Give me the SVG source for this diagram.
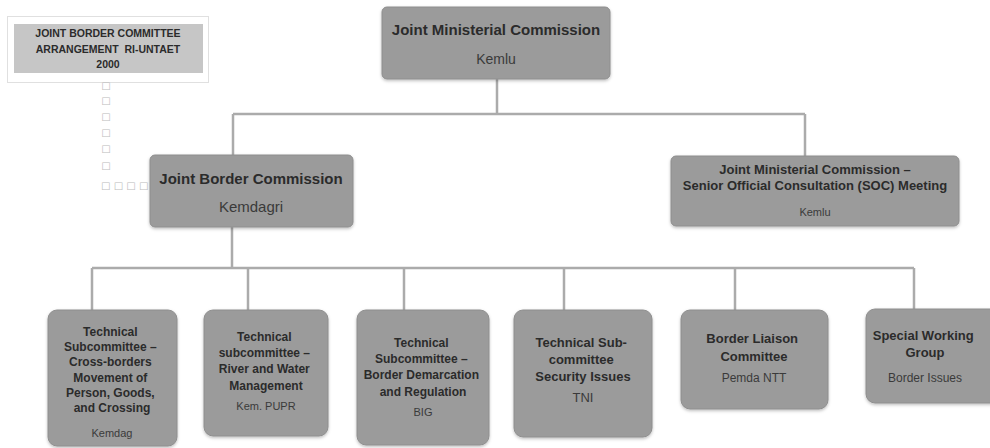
<svg xmlns="http://www.w3.org/2000/svg" width="990" height="448" viewBox="0 0 990 448">
<defs>
<filter id="sh" x="-10%" y="-10%" width="120%" height="125%">
<feDropShadow dx="0" dy="1.5" stdDeviation="1.5" flood-color="#000" flood-opacity="0.25"/>
</filter>
</defs>
<style>
.box{fill:#9b9b9b;stroke:#8e8e8e;stroke-width:1;filter:url(#sh)}
.b{font-family:"Liberation Sans",Arial,sans-serif;font-weight:bold;fill:#2b2b2b;text-anchor:middle}
.n{font-family:"Liberation Sans",Arial,sans-serif;fill:#3a3a3a;text-anchor:middle}
.con{fill:none;stroke:#ababab;stroke-width:2.5}
.dot{font-family:"DejaVu Sans",sans-serif;font-size:10px;fill:#bdbdbd}
</style>
<rect width="990" height="448" fill="#ffffff"/>

<g id="connectors">
<path class="con" d="M497 79V114M233 114H805M233 114V155M805 114V156"/>
<path class="con" d="M232 227V268M92 268H914M92 268V310M248 268V310M404 268V310M564 268V310M735 268V310M914 268V309"/>
<line x1="232" y1="156" x2="232" y2="226" stroke="#b5b5b5" stroke-width="1.5" opacity="0.6"/>
</g>

<g id="label-jbca">
<rect x="7.5" y="16.5" width="201" height="66" fill="#ffffff" stroke="#e0e0e0" stroke-width="1"/>
<rect x="14" y="24" width="189" height="49" fill="#c6c6c6"/>
<text class="b" font-size="10.5" x="108" y="37">JOINT BORDER COMMITTEE</text>
<text class="b" font-size="10.5" x="108" y="53">ARRANGEMENT&#160; RI-UNTAET</text>
<text class="b" font-size="10.5" x="108" y="68">2000</text>
<text class="dot" x="106" y="89" text-anchor="middle">□</text>
<text class="dot" x="106" y="104" text-anchor="middle">□</text>
<text class="dot" x="106" y="120" text-anchor="middle">□</text>
<text class="dot" x="106" y="136" text-anchor="middle">□</text>
<text class="dot" x="106" y="152" text-anchor="middle">□</text>
<text class="dot" x="106" y="169" text-anchor="middle">□</text>
<text class="dot" x="101" y="189">□ □ □ □</text>
</g>

<g id="jmc">
<rect class="box" x="382" y="7" width="228" height="72" rx="5"/>
<text class="b" font-size="15" x="496" y="35">Joint Ministerial Commission</text>
<text class="n" font-size="14" x="496" y="64">Kemlu</text>
</g>

<g id="jbc">
<rect class="box" x="150" y="155" width="203" height="72" rx="5"/>
<text class="b" font-size="15" x="251" y="184">Joint Border Commission</text>
<text class="n" font-size="15" x="251" y="212">Kemdagri</text>
</g>

<g id="soc">
<rect class="box" x="671" y="156" width="288" height="70" rx="5"/>
<text class="b" font-size="13" x="815" y="174">Joint Ministerial Commission –</text>
<text class="b" font-size="13" x="815" y="190">Senior Official Consultation (SOC) Meeting</text>
<text class="n" font-size="11" x="815" y="216">Kemlu</text>
</g>

<g id="tsc-cross">
<rect class="box" x="48" y="310" width="129" height="136" rx="9"/>
<text class="b" font-size="12">
<tspan x="112" y="336">Technical</tspan>
<tspan x="112" y="351">Subcommittee –</tspan>
<tspan x="112" y="366">Cross-borders</tspan>
<tspan x="112" y="382">Movement of</tspan>
<tspan x="112" y="397">Person, Goods,</tspan>
<tspan x="112" y="412">and Crossing</tspan>
</text>
<text class="n" font-size="11" x="112" y="437">Kemdag</text>
</g>

<g id="tsc-river">
<rect class="box" x="204" y="310" width="124" height="126" rx="9"/>
<text class="b" font-size="12">
<tspan x="266" y="341">Technical</tspan>
<tspan x="266" y="357">subcommittee –</tspan>
<tspan x="266" y="373">River and Water</tspan>
<tspan x="266" y="390">Management</tspan>
</text>
<text class="n" font-size="11" x="266" y="410">Kem. PUPR</text>
</g>

<g id="tsc-border">
<rect class="box" x="357" y="310" width="132" height="135" rx="9"/>
<text class="b" font-size="12">
<tspan x="423" y="347">Technical</tspan>
<tspan x="423" y="363">Subcommittee –</tspan>
<tspan x="423" y="379">Border Demarcation</tspan>
<tspan x="423" y="396">and Regulation</tspan>
</text>
<text class="n" font-size="11" x="423" y="416">BIG</text>
</g>

<g id="tsc-security">
<rect class="box" x="514" y="310" width="138" height="127" rx="9"/>
<text class="b" font-size="13">
<tspan x="583" y="347">Technical Sub-</tspan>
<tspan x="583" y="364">committee</tspan>
<tspan x="583" y="381">Security Issues</tspan>
</text>
<text class="n" font-size="13" x="583" y="402">TNI</text>
</g>

<g id="blc">
<rect class="box" x="681" y="310" width="147" height="99" rx="9"/>
<text class="b" font-size="13">
<tspan x="754" y="343">Border Liaison</tspan>
<tspan x="754" y="361">Committee</tspan>
</text>
<text class="n" font-size="12" x="754" y="382">Pemda NTT</text>
</g>

<g id="swg">
<rect class="box" x="866" y="309" width="134" height="94" rx="9"/>
<text class="b" font-size="13">
<tspan x="925" y="340">Special Working</tspan>
<tspan x="925" y="357">Group</tspan>
</text>
<text class="n" font-size="12" x="925" y="382">Border Issues</text>
</g>
</svg>
